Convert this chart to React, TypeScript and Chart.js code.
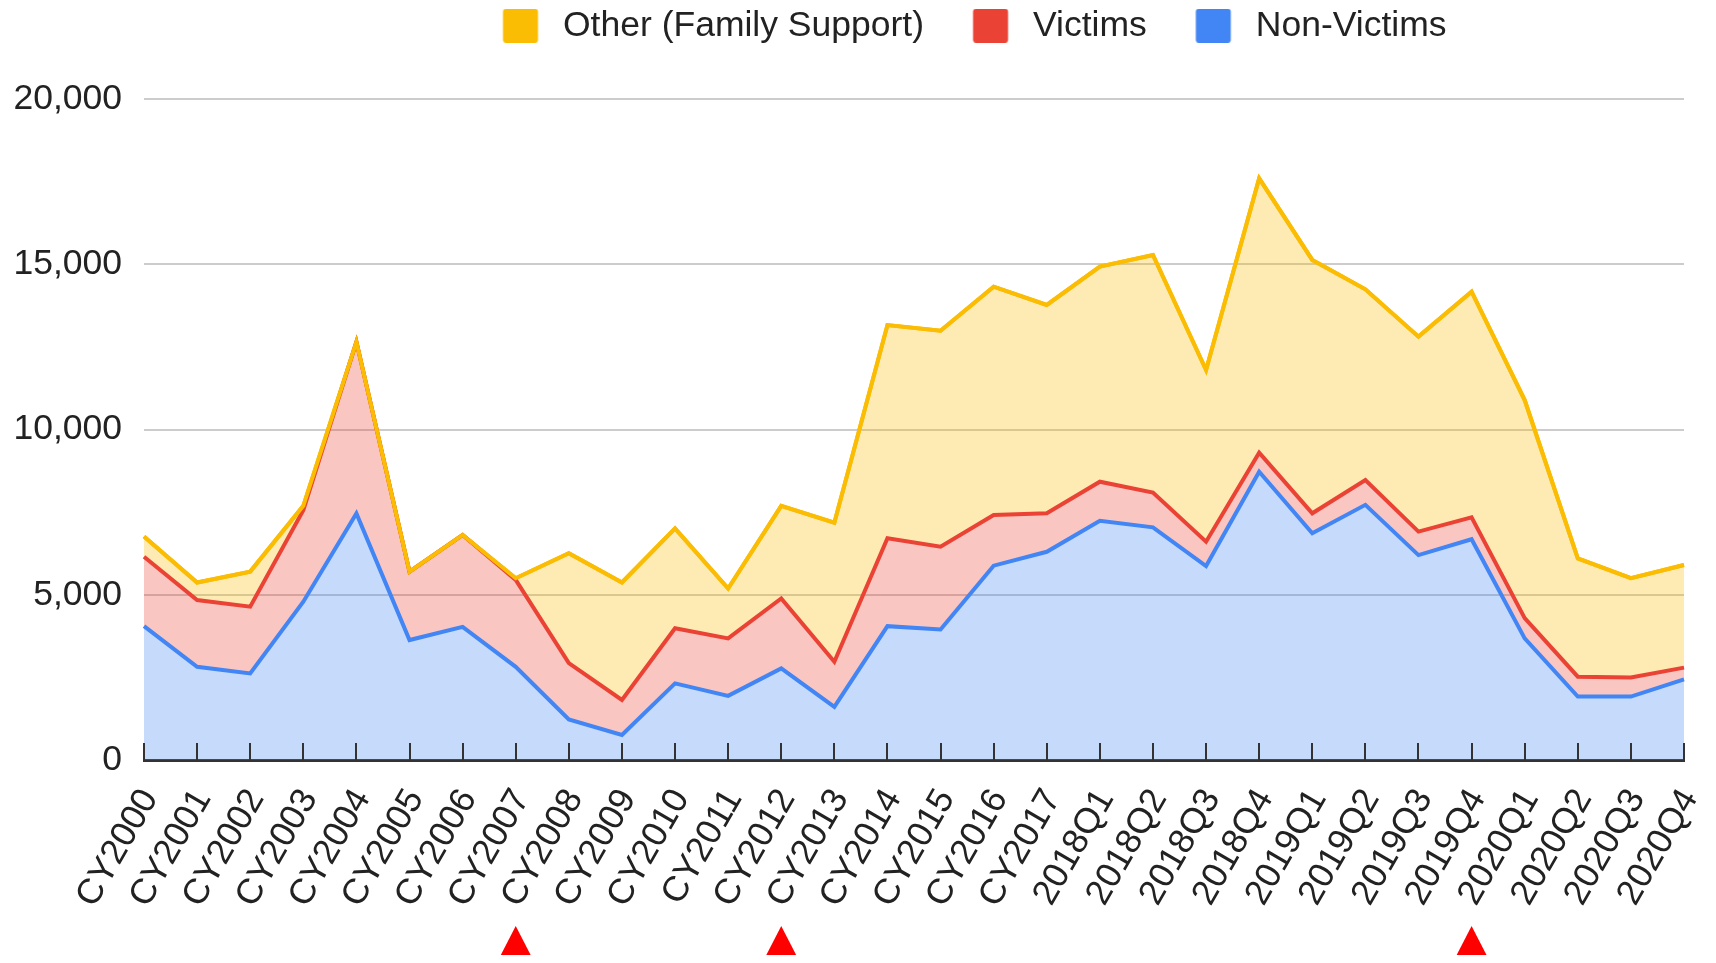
import React, { useEffect, useRef } from 'react';
import { Chart, registerables } from 'chart.js';

Chart.register(...registerables);

const LABELS: string[] = [
  'CY2000', 'CY2001', 'CY2002', 'CY2003', 'CY2004', 'CY2005', 'CY2006', 'CY2007', 'CY2008', 'CY2009',
  'CY2010', 'CY2011', 'CY2012', 'CY2013', 'CY2014', 'CY2015', 'CY2016', 'CY2017',
  '2018Q1', '2018Q2', '2018Q3', '2018Q4', '2019Q1', '2019Q2', '2019Q3', '2019Q4',
  '2020Q1', '2020Q2', '2020Q3', '2020Q4',
];

const NON_VICTIMS: number[] = [
  4050, 2820, 2620, 4790, 7460, 3630, 4030, 2820, 1230, 760,
  2320, 1940, 2770, 1610, 4050, 3950, 5880, 6300,
  7240, 7040, 5870, 8720, 6860, 7720, 6200, 6680,
  3680, 1920, 1920, 2440,
];

const VICTIMS: number[] = [
  2100, 2020, 2020, 2770, 5190, 2070, 2780, 2630, 1700, 1055,
  1665, 1740, 2120, 1365, 2660, 2505, 1530, 1165,
  1180, 1050, 735, 580, 605, 750, 710, 665,
  610, 600, 580, 355,
];

const OTHER: number[] = [
  610, 530, 1060, 130, 0, 0, 0, 50, 3325, 3555,
  3025, 1510, 2800, 4205, 6450, 6535, 6910, 6305,
  6510, 7190, 5195, 8300, 7665, 5770, 5900, 6825,
  6600, 3580, 3000, 3105,
];

const SERIES_NAMES: string[] = ['Non-Victims', 'Victims', 'Other (Family Support)'];
const SERIES_COLORS: string[] = ['#4285F4', '#EA4335', '#FBBC04'];
const SERIES_FILLS: string[] = ['rgba(66,133,244,0.3)', 'rgba(234,67,53,0.3)', 'rgba(251,188,4,0.3)'];

const Y_MIN = 0;
const Y_MAX = 20000;
const Y_STEP = 5000;

const MARKED: string[] = ['CY2007', 'CY2012', '2019Q4'];

const FONT = '"Liberation Sans", Arial, sans-serif';
const FONT_SIZE = 35.5;
const TEXT = '#222222';

const CANVAS_W = 1700;
const CANVAS_H = 955;

// legend geometry
const SW_W = 35;
const SW_H = 34;
const SW_OFFSET = 49; // box offset within legend item
const PS_WIDTH = SW_OFFSET + SW_W + 25 - FONT_SIZE / 2; // layout width of the swatch slot
const IMG_W = 110;
const LEGEND_LEFT = 446;

function makeSwatch(color: string): HTMLCanvasElement {
  const c = document.createElement('canvas');
  c.width = IMG_W;
  c.height = SW_H;
  const g = c.getContext('2d')!;
  const left = SW_OFFSET - (PS_WIDTH / 2 - IMG_W / 2);
  g.fillStyle = color;
  g.beginPath();
  if ((g as any).roundRect) (g as any).roundRect(left, 0, SW_W, SW_H, 3);
  else g.rect(left, 0, SW_W, SW_H);
  g.fill();
  return c;
}

export default function App() {
  const ref = useRef<HTMLCanvasElement | null>(null);

  useEffect(() => {
    if (!ref.current) return;
    Chart.defaults.font.family = FONT;
    const swatches = SERIES_COLORS.map(makeSwatch);
    const seriesData = [NON_VICTIMS, VICTIMS, OTHER];

    const customPlugin = {
      id: 'customDecor',
      afterLayout(chart: any) {
        const lg = chart.legend;
        if (!lg) return;
        const h = lg.bottom - lg.top;
        lg.left = LEGEND_LEFT;
        lg.top = 0;
        lg.bottom = h + 8;
      },
      afterDatasetsDraw(chart: any) {
        const ctx = chart.ctx;
        const meta = chart.getDatasetMeta(2);
        if (meta && meta.dataset) {
          ctx.save();
          meta.dataset.draw(ctx, chart.chartArea);
          ctx.restore();
        }
      },
      afterDraw(chart: any) {
        const ctx = chart.ctx;
        const xs = chart.scales.x;
        const area = chart.chartArea;
        ctx.save();
        ctx.strokeStyle = '#333333';
        ctx.lineWidth = 2;
        LABELS.forEach((_, i) => {
          const px = Math.round(xs.getPixelForValue(i));
          ctx.beginPath();
          ctx.moveTo(px, area.bottom);
          ctx.lineTo(px, area.bottom - 17);
          ctx.stroke();
        });
        ctx.fillStyle = '#ff0000';
        const top = chart.height - 37;
        const base = chart.height - 3;
        MARKED.forEach((lab) => {
          const idx = LABELS.indexOf(lab);
          if (idx < 0) return;
          const px = xs.getPixelForValue(idx);
          ctx.beginPath();
          ctx.moveTo(px, top);
          ctx.lineTo(px + 17.5, base);
          ctx.lineTo(px - 17.5, base);
          ctx.closePath();
          ctx.fill();
        });
        ctx.restore();
      },
    };

    const chart = new Chart(ref.current, {
      type: 'line',
      data: {
        labels: LABELS,
        datasets: SERIES_NAMES.map((name, i) => ({
          label: name,
          data: seriesData[i],
          borderColor: SERIES_COLORS[i],
          backgroundColor: SERIES_FILLS[i],
          fill: i === 0 ? 'origin' : '-1',
          borderWidth: 4,
          pointRadius: 0,
          pointHoverRadius: 0,
          tension: 0,
        })),
      },
      options: {
        responsive: false,
        animation: false,
        events: [],
        layout: { padding: { top: 45.5, right: 24, bottom: 0, left: 0 } },
        plugins: {
          tooltip: { enabled: false },
          legend: {
            position: 'top',
            align: 'start',
            reverse: true,
            labels: {
              usePointStyle: true,
              pointStyleWidth: PS_WIDTH,
              padding: 0,
              color: TEXT,
              font: { family: FONT, size: FONT_SIZE },
              generateLabels: (c: any) => {
                const items = (Chart.defaults.plugins.legend.labels as any).generateLabels(c);
                return items.map((it: any) => ({ ...it, pointStyle: swatches[it.datasetIndex] }));
              },
            },
          },
        },
        scales: {
          x: {
            z: 1,
            grid: { display: false, drawTicks: false },
            border: { display: true, color: '#333333', width: 3 },
            ticks: {
              autoSkip: false,
              minRotation: 60,
              maxRotation: 60,
              padding: 22,
              labelOffset: 6,
              color: TEXT,
              font: { family: FONT, size: FONT_SIZE },
            },
            afterFit: (s: any) => {
              s.height = 203;
              s.paddingRight = 0;
              s.paddingLeft = 0;
            },
          },
          y: {
            stacked: true,
            min: Y_MIN,
            max: Y_MAX,
            grid: { color: '#cccccc', lineWidth: 2, drawTicks: false },
            border: { display: false },
            ticks: {
              stepSize: Y_STEP,
              padding: 22,
              color: TEXT,
              font: { family: FONT, size: FONT_SIZE },
            },
            afterFit: (s: any) => { s.width = 136; },
          },
        },
      } as any,
      plugins: [customPlugin as any],
    });

    return () => chart.destroy();
  }, []);

  return (
    <div style={{ width: CANVAS_W, height: CANVAS_H, marginBottom: -8 }}>
      <canvas ref={ref} width={CANVAS_W} height={CANVAS_H} style={{ display: 'block', width: CANVAS_W, height: CANVAS_H }} />
    </div>
  );
}
